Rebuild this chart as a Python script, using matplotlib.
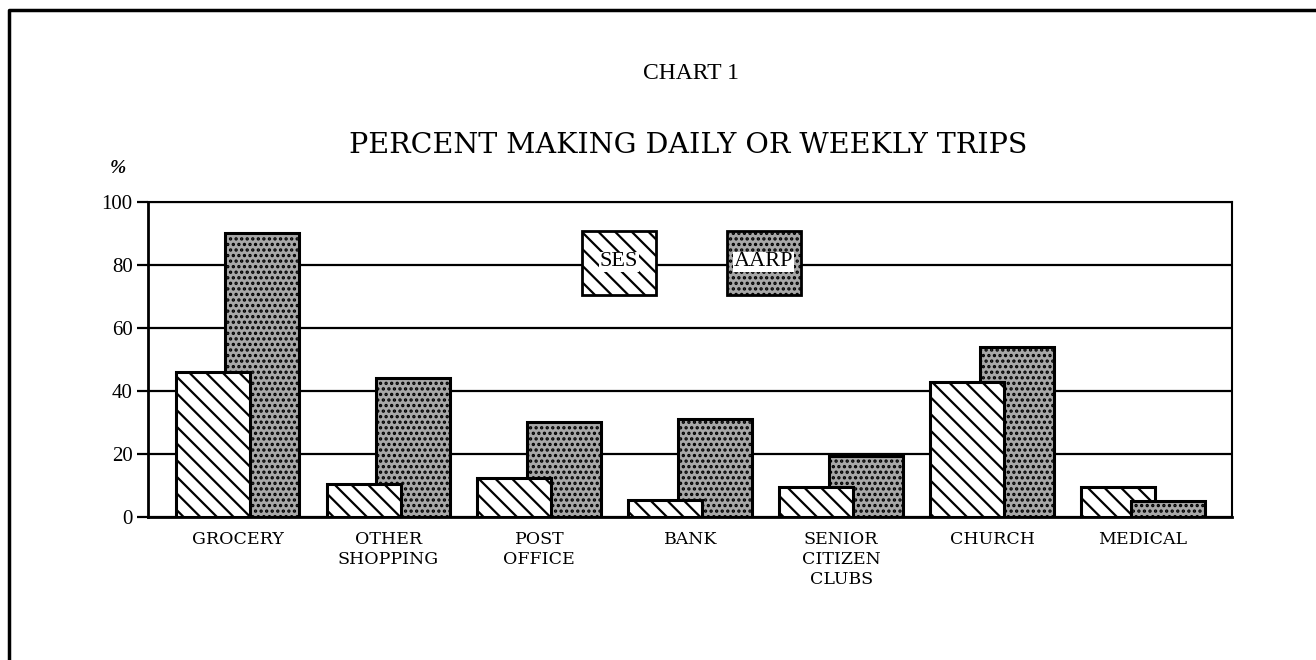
import matplotlib
matplotlib.use("Agg")
import matplotlib.pyplot as plt
import numpy as np
from matplotlib.lines import Line2D
from matplotlib.patches import Rectangle

categories = ["GROCERY", "OTHER\nSHOPPING", "POST\nOFFICE", "BANK",
              "SENIOR\nCITIZEN\nCLUBS", "CHURCH", "MEDICAL"]
ses = [46, 10.5, 12.5, 5.5, 9.5, 43, 9.5]
aarp = [90, 44, 30, 31, 19.5, 54, 5]
yticks = [0, 20, 40, 60, 80, 100]

plt.rcParams["hatch.linewidth"] = 1.6
serif = ["Liberation Serif", "DejaVu Serif"]
ses_hatch = "\\\\"
aarp_hatch = "..."
aarp_fc = "#a8a8a8"

fig = plt.figure(figsize=(13.16, 6.6), dpi=100)
ax = fig.add_axes([0.1125, 0.2167, 0.8237, 0.4773])

x = np.arange(len(categories))
width = 0.49
off = 0.165
for i in range(len(categories)):
    # the shorter bar of each pair sits in front
    z_ses = 4 if ses[i] <= aarp[i] else 3
    z_aarp = 7 - z_ses
    ax.bar(x[i] - off, ses[i], width, facecolor="white", edgecolor="black",
           hatch=ses_hatch, linewidth=2.2, zorder=z_ses)
    ax.bar(x[i] + off, aarp[i], width, facecolor=aarp_fc, edgecolor="black",
           hatch=aarp_hatch, linewidth=2.2, zorder=z_aarp)

ax.set_xlim(-0.593, 6.59)
ax.set_ylim(0, 100)
ax.set_yticks(yticks)
ax.set_yticklabels([str(v) for v in yticks], fontsize=15, family=serif)
ax.set_xticks(x)
ax.set_xticklabels(categories, fontsize=12.5, family="DejaVu Serif",
                   linespacing=1.25, va="top")
ax.tick_params(axis="x", length=0, pad=10)
ax.tick_params(axis="y", length=8, width=1.6, pad=3)
ax.grid(axis="y", color="black", linewidth=1.6, zorder=1)
ax.set_axisbelow(True)
for side in ["left", "bottom"]:
    ax.spines[side].set_linewidth(2)
for side in ["top", "right"]:
    ax.spines[side].set_linewidth(1.5)

# legend boxes
for bx, label, fc, hatch in [(0.4004, "SES", "white", ses_hatch),
                             (0.534, "AARP", aarp_fc, aarp_hatch)]:
    ax.add_patch(Rectangle((bx, 0.705), 0.068, 0.203, transform=ax.transAxes,
                           facecolor=fc, edgecolor="black", hatch=hatch,
                           linewidth=2, zorder=5))
    ax.text(bx + 0.034, 0.81, label, transform=ax.transAxes, ha="center",
            va="center", fontsize=16, family=serif, zorder=6,
            bbox=dict(facecolor="white", edgecolor="none", pad=0.5))

ax.text(-0.028, 1.105, "%", transform=ax.transAxes, ha="center", va="center",
        fontsize=14, family=serif, style="italic", weight="bold")

fig.text(0.525, 0.888, "CHART 1", ha="center", va="center", fontsize=17,
         family=serif)
fig.text(0.523, 0.78, "PERCENT MAKING DAILY OR WEEKLY TRIPS", ha="center",
         va="center", fontsize=20.5, family="DejaVu Serif")

# outer frame (top and left edges)
fig.add_artist(Line2D([0.007, 0.007, 1.0], [0.0, 0.985, 0.985],
                      transform=fig.transFigure, color="black", linewidth=2.5))

fig.savefig("out.png", dpi=100, facecolor="white")
